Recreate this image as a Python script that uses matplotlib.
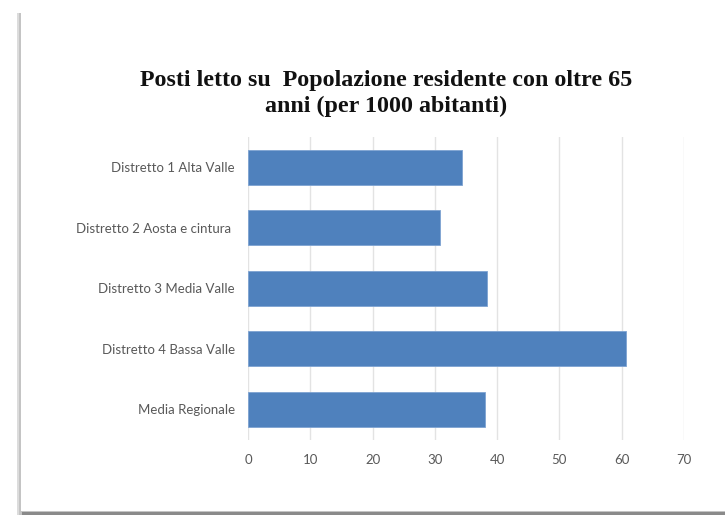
import matplotlib
matplotlib.use("Agg")
import matplotlib.pyplot as plt
from matplotlib.patches import Rectangle

# Posti letto ogni 1000 residenti over 65, per distretto
distretti = ["Distretto 1 Alta Valle", "Distretto 2 Aosta e cintura ",
             "Distretto 3 Media Valle", "Distretto 4 Bassa Valle",
             "Media Regionale"]
posti_letto = [34.4, 30.9, 38.3, 60.7, 38.1]
x_ticks = [0, 10, 20, 30, 40, 50, 60, 70]

W, H = 725, 515
fig = plt.figure(figsize=(W / 100, H / 100), dpi=100)
fig.patch.set_facecolor("white")

# cornice con ombra a sinistra e in basso
def box(x, y, w, h, color):
    fig.patches.append(Rectangle((x / W, y / H), w / W, h / H, transform=fig.transFigure,
                                 facecolor=color, edgecolor="none", zorder=-5))

box(17, 0, W, H - 13, "#dcdcdc")
box(19, 0, W, H - 13, "#c4c4c4")
box(22, 0, W, 3, "#8a8a8a")
box(21, 4, W, H - 17, "white")

ax = fig.add_axes([248 / W, 1 - 439.5 / H, (684 - 248) / W, 302.5 / H])
ax.set_zorder(2)
ax.set_facecolor("none")

y = list(range(len(distretti)))
ax.barh(y, posti_letto, height=0.58, color="#4f81bd", edgecolor="#7ea3d2",
        linewidth=0.6, zorder=3)
ax.set_ylim(len(distretti) - 0.5, -0.5)
ax.set_xlim(0, 70)
ax.set_xticks(x_ticks)
ax.set_yticks(y)
ax.set_yticklabels(distretti)

ax.grid(axis="x", color="#e3e3e3", linewidth=1, zorder=0)
for s in ax.spines.values():
    s.set_visible(False)
ax.tick_params(axis="both", length=0, colors="#595959", labelsize=9.5)
ax.tick_params(axis="y", pad=9.4)
ax.tick_params(axis="x", pad=10.5)
for lab in ax.get_xticklabels() + ax.get_yticklabels():
    lab.set_family(["Lato", "DejaVu Sans"])

fig.text(386 / W, 1 - 93.5 / H,
         "Posti letto su  Popolazione residente con oltre 65\nanni (per 1000 abitanti)",
         ha="center", va="center", fontsize=17.3, fontweight="bold",
         family="Liberation Serif", linespacing=1.33, color="#111111", zorder=3)

fig.savefig("out.png", dpi=100)
